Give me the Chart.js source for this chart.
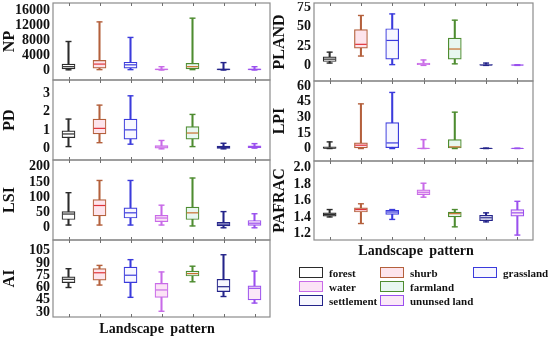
<!DOCTYPE html>
<html>
<head>
<meta charset="utf-8">
<script src="https://cdn.jsdelivr.net/npm/chart.js@4"></script>
<style>
  body { margin: 0; width: 550px; height: 337px; background: #fff; position: relative; overflow: hidden; font-family: 'Liberation Serif', 'DejaVu Serif', serif; }
  .panel { position: absolute; }
  .xlab { position: absolute; font-weight: bold; font-size: 14px; word-spacing: 3px; color: #111; transform: translate(-50%, -50%); white-space: nowrap; }
  .leg { position: absolute; font-weight: bold; font-size: 11px; color: #111; line-height: 12px; white-space: nowrap; }
  .leg i { position: absolute; left: -30px; top: 0; width: 22px; height: 9px; border: 1.5px solid; }
</style>
</head>
<body>
<div class="panel" style="left:0;top:2px;width:271px;height:79px"><canvas id="np"></canvas></div>
<div class="panel" style="left:0;top:79px;width:271px;height:82px"><canvas id="pd"></canvas></div>
<div class="panel" style="left:0;top:159px;width:271px;height:82px"><canvas id="lsi"></canvas></div>
<div class="panel" style="left:0;top:239px;width:271px;height:79px"><canvas id="ai"></canvas></div>
<div class="panel" style="left:270px;top:2px;width:264px;height:80px"><canvas id="pland"></canvas></div>
<div class="panel" style="left:270px;top:80px;width:264px;height:82px"><canvas id="lpi"></canvas></div>
<div class="panel" style="left:270px;top:160px;width:264px;height:81px"><canvas id="pafrac"></canvas></div>

<div class="xlab" style="left:157px;top:329px">Landscape pattern</div>
<div class="xlab" style="left:416px;top:251px">Landscape pattern</div>
<div id="legend"></div>

<script>
// land use types
const categories = ['forest', 'shurb', 'grassland', 'water', 'farmland', 'settlement', 'ununsed land'];

// colours per land use type
const boxColors = ['#2b2b2b', '#b4603c', '#3b3bdc', '#c86ae8', '#4e8c30', '#24248a', '#9a50ee'];
const fillColors = ['#ffffff', '#fde4ec', '#f7f7ff', '#fbe3f6', '#e8f7f0', '#f7f7ff', '#fbe8f8'];
const medianColors = ['#2b2b2b', '#e0343a', '#3b3bdc', '#c86ae8', '#c8702e', '#24248a', '#9a50ee'];

// box stats per type: [min, q1, median, q3, max]
const npStats = [
  [50, 300, 900, 1600, 7700],
  [100, 500, 1600, 2600, 13000],
  [100, 500, 1400, 2100, 8800],
  [0, 50, 150, 300, 900],
  [100, 300, 900, 1800, 14000],
  [0, 50, 150, 300, 2000],
  [0, 50, 150, 300, 900]
];
const pdStats = [
  [0.12, 0.6, 0.8, 0.97, 1.6],
  [0.33, 0.8, 1.1, 1.6, 2.35],
  [0.25, 0.52, 1.02, 1.6, 2.85],
  [0, 0.03, 0.1, 0.18, 0.45],
  [0.12, 0.52, 0.85, 1.2, 1.85],
  [0, 0.02, 0.08, 0.15, 0.3],
  [0.04, 0.06, 0.12, 0.16, 0.28]
];
const lsiStats = [
  [9, 27, 45, 53, 115],
  [9, 39, 73, 92, 155],
  [9, 32, 49, 65, 155],
  [9, 20, 32, 41, 74],
  [6, 27, 49, 68, 163],
  [0, 6, 12, 18, 53],
  [0, 8, 15, 24, 46]
];
const aiStats = [
  [60, 66, 70, 73, 83],
  [63, 69, 78, 83, 87],
  [48, 66, 75, 85, 94],
  [31, 48, 57, 65, 79],
  [67, 74, 77, 80, 86],
  [49, 55, 61, 70, 100],
  [41, 45, 59, 62, 80]
];
const plandStats = [
  [3, 5, 8, 11, 17],
  [12, 22, 27, 46, 64],
  [1, 8, 32, 47, 66],
  [0, 1, 2, 3, 7],
  [2, 8, 21, 35, 58],
  [0, 0.2, 0.5, 1, 3],
  [0, 0.2, 0.4, 0.6, 0.8]
];
const lpiStats = [
  [0, 0.2, 0.6, 1.6, 6.4],
  [0, 0.6, 3.2, 5.4, 43],
  [0, 0.8, 5.4, 25, 54],
  [0, 0.05, 0.1, 0.2, 8.6],
  [0, 0.5, 1.6, 8.6, 35],
  [0, 0.05, 0.1, 0.2, 0.4],
  [0, 0.05, 0.1, 0.2, 0.3]
];
const pafracStats = [
  [1.40, 1.41, 1.43, 1.45, 1.49],
  [1.32, 1.46, 1.49, 1.51, 1.56],
  [1.37, 1.43, 1.46, 1.48, 1.49],
  [1.64, 1.67, 1.70, 1.73, 1.81],
  [1.28, 1.40, 1.44, 1.46, 1.49],
  [1.34, 1.355, 1.39, 1.42, 1.45],
  [1.18, 1.41, 1.45, 1.49, 1.59]
];

// tick labels per panel
const npTicks = [0, 4000, 8000, 12000, 16000];
const pdTicks = [0, 1, 2, 3];
const lsiTicks = [0, 50, 100, 150, 200];
const aiTicks = [30, 45, 60, 75, 90, 105];
const plandTicks = [0, 25, 50, 75];
const lpiTicks = [0, 15, 30, 45, 60];
const pafracTicks = [1.2, 1.4, 1.6, 1.8, 2.0];

const serif = "'Liberation Serif', 'DejaVu Serif', serif";

function boxPlugin(stats) {
  return {
    id: 'boxExtras',
    afterDatasetsDraw(chart) {
      const { ctx, scales: { x, y } } = chart;
      ctx.save();
      stats.forEach((s, i) => {
        const cx = x.getPixelForValue(i);
        ctx.strokeStyle = boxColors[i];
        ctx.lineWidth = 1.4;
        [s[0], s[4]].forEach(v => {
          const py = y.getPixelForValue(v);
          ctx.beginPath(); ctx.moveTo(cx - 3, py); ctx.lineTo(cx + 3, py); ctx.stroke();
        });
        const my = y.getPixelForValue(s[2]);
        ctx.strokeStyle = medianColors[i];
        ctx.lineWidth = 1.2;
        ctx.beginPath(); ctx.moveTo(cx - 5.8, my); ctx.lineTo(cx + 5.8, my); ctx.stroke();
      });
      ctx.restore();
    },
    afterDraw(chart) {
      const { ctx, chartArea: a, scales: { x } } = chart;
      ctx.save();
      ctx.strokeStyle = '#8c8c8c';
      ctx.lineWidth = 1.2;
      ctx.strokeRect(a.left, a.top, a.width, a.height);
      ctx.strokeStyle = '#707070';
      ctx.lineWidth = 1;
      stats.forEach((s, i) => {
        const cx = Math.round(x.getPixelForValue(i)) + 0.5;
        ctx.beginPath();
        ctx.moveTo(cx, a.bottom); ctx.lineTo(cx, a.bottom - 3);
        ctx.moveTo(cx, a.top); ctx.lineTo(cx, a.top + 3);
        ctx.stroke();
      });
      ctx.restore();
    }
  };
}

function makePanel(id, title, stats, yMin, yMax, ticks, axisWidth, decimals) {
  new Chart(document.getElementById(id), {
    type: 'bar',
    data: {
      labels: categories,
      datasets: [
        {
          data: stats.map(s => [s[1], s[3]]),
          backgroundColor: fillColors,
          borderColor: boxColors,
          borderWidth: 1.2,
          borderSkipped: false,
          barThickness: 13,
          grouped: false,
          order: 0
        },
        {
          data: stats.map(s => [s[0], s[4]]),
          backgroundColor: boxColors,
          borderWidth: 0,
          barThickness: 1.4,
          grouped: false,
          order: 1
        }
      ]
    },
    options: {
      responsive: true,
      maintainAspectRatio: false,
      animation: false,
      layout: { padding: { top: 1, bottom: 1, right: 1, left: 0 } },
      plugins: { legend: { display: false }, tooltip: { enabled: false } },
      scales: {
        x: { display: false, offset: true },
        y: {
          min: yMin,
          max: yMax,
          afterBuildTicks: s => { s.ticks = ticks.map(v => ({ value: v })); },
          afterFit: s => { s.width = axisWidth; s.paddingTop = 0; s.paddingBottom = 0; },
          grid: { display: false, drawTicks: false },
          border: { display: false },
          ticks: {
            autoSkip: false,
            padding: 3,
            color: '#111',
            font: { family: serif, size: 14, weight: 'bold' },
            callback: v => decimals ? Number(v).toFixed(decimals) : v
          },
          title: {
            display: true,
            text: title,
            color: '#111',
            padding: 0,
            font: { family: serif, size: 16, weight: 'bold' }
          }
        }
      }
    },
    plugins: [boxPlugin(stats)]
  });
}

makePanel('np', 'NP', npStats, -2700, 18100, npTicks, 53, 0);
makePanel('pd', 'PD', pdStats, -0.6, 3.7, pdTicks, 53, 0);
makePanel('lsi', 'LSI', lsiStats, -40, 222, lsiTicks, 53, 0);
makePanel('ai', 'AI', aiStats, 24, 118, aiTicks, 53, 0);
makePanel('pland', 'PLAND', plandStats, -20, 80, plandTicks, 44, 0);
makePanel('lpi', 'LPI', lpiStats, -12, 65, lpiTicks, 44, 0);
makePanel('pafrac', 'PAFRAC', pafracStats, 1.12, 2.08, pafracTicks, 44, 1);

// legend
const legendPos = [[329, 267], [410, 267], [503, 267], [329, 281], [410, 281], [329, 295], [410, 295]];
const legend = document.getElementById('legend');
categories.forEach((name, i) => {
  const el = document.createElement('div');
  el.className = 'leg';
  el.style.left = legendPos[i][0] + 'px';
  el.style.top = legendPos[i][1] + 'px';
  el.innerHTML = `<i style="border-color:${boxColors[i]};background:${fillColors[i]}"></i>${name}`;
  legend.appendChild(el);
});
</script>
</body>
</html>
